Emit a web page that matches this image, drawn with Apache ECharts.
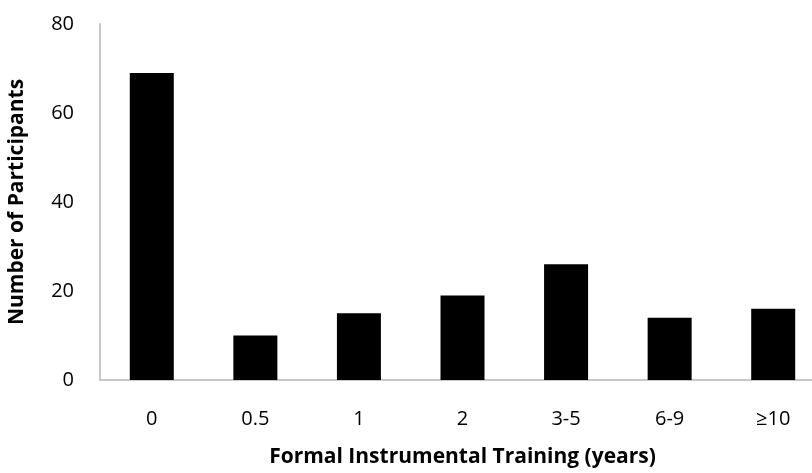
<!DOCTYPE html>
<html lang="en" style="height: 100%">
<head>
  <meta charset="utf-8">
</head>
<body style="height: 100%; margin: 0; background: #fff">
  <div id="container" style="width: 812px; height: 473px"></div>

  <script type="text/javascript" src="https://cdn.jsdelivr.net/npm/echarts@6/dist/echarts.min.js"></script>

  <script type="text/javascript">
    var categories = ['0', '0.5', '1', '2', '3-5', '6-9', '≥10'];
    var participants = [69, 10, 15, 19, 26, 14, 16];
    var yTicks = [0, 20, 40, 60, 80];

    var dom = document.getElementById('container');
    var myChart = echarts.init(dom, null, { renderer: 'canvas' });

    var option = {
      backgroundColor: '#ffffff',
      animation: false,
      grid: {
        left: 100,
        top: 24,
        width: 725,
        height: 356,
        outerBoundsMode: 'none'
      },
      xAxis: {
        type: 'category',
        data: categories,
        axisLine: { lineStyle: { color: '#c8c8c8', width: 2 } },
        axisTick: { show: false },
        axisLabel: {
          margin: 29,
          fontFamily: 'Open Sans',
          fontSize: 20,
          color: '#000'
        },
        name: 'Formal Instrumental Training (years)',
        nameLocation: 'middle',
        nameGap: 67,
        nameTextStyle: {
          fontFamily: 'Open Sans',
          fontWeight: 'bold',
          fontSize: 21,
          color: '#000'
        }
      },
      yAxis: {
        type: 'value',
        min: yTicks[0],
        max: yTicks[yTicks.length - 1],
        interval: 20,
        axisLine: { show: true, lineStyle: { color: '#c8c8c8', width: 2 } },
        axisTick: { show: false },
        splitLine: { show: false },
        axisLabel: {
          margin: 26,
          fontFamily: 'Open Sans',
          fontSize: 20,
          color: '#000'
        },
        name: 'Number of Participants',
        nameLocation: 'middle',
        nameGap: 72,
        nameTextStyle: {
          fontFamily: 'Open Sans',
          fontWeight: 'bold',
          fontSize: 21,
          color: '#000'
        }
      },
      series: [
        {
          type: 'bar',
          data: participants,
          barWidth: 44,
          itemStyle: { color: '#000' }
        }
      ]
    };

    myChart.setOption(option);
    window.addEventListener('resize', myChart.resize);
  </script>
</body>
</html>
